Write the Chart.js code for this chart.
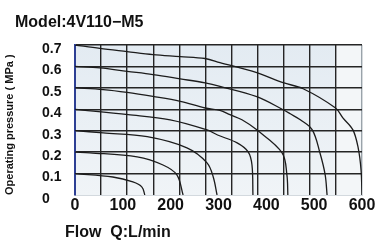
<!DOCTYPE html>
<html><head><meta charset="utf-8">
<script src="https://cdn.jsdelivr.net/npm/chart.js@4.4.1/dist/chart.umd.min.js"></script>
<style>html,body{margin:0;padding:0;background:#fff}canvas{display:block}</style>
</head><body>
<canvas id="c" width="387" height="240"></canvas>
<script>
// ---- text ----
const chartTitle = 'Model:4V110\u2212M5';
const xAxisTitle = 'Flow  Q:L/min';
const yAxisTitle = 'Operating pressure ( MPa )';
const xTickLabels = ['0', '100', '200', '300', '400', '500', '600'];
const yTickLabels = ['0', '0.1', '0.2', '0.3', '0.4', '0.5', '0.6', '0.7'];
const seriesNames = ['0.1 MPa', '0.2 MPa', '0.3 MPa', '0.4 MPa', '0.5 MPa', '0.6 MPa', '0.7 MPa'];

// ---- series (flow L/min, pressure MPa) ----
const flow01 = [0, 79, 121, 140, 146];
const pres01 = [0.10, 0.084, 0.061, 0.037, 0];
const flow02 = [0, 31, 130, 184, 213, 226];
const pres02 = [0.20, 0.197, 0.178, 0.140, 0.094, 0];
const flow03 = [0, 59, 151, 234, 276, 289, 297];
const pres03 = [0.30, 0.290, 0.272, 0.220, 0.150, 0.084, 0];
const flow04 = [0, 111, 199, 276, 298, 339, 362, 370, 372];
const pres04 = [0.40, 0.375, 0.351, 0.304, 0.280, 0.243, 0.201, 0.140, 0];
const flow05 = [0, 59, 109, 163, 220, 272, 303, 324, 349, 380, 433, 443, 445];
const pres05 = [0.50, 0.492, 0.479, 0.460, 0.437, 0.406, 0.395, 0.375, 0.351, 0.304, 0.197, 0.094, 0];
const flow06 = [0, 52, 109, 163, 220, 272, 303, 380, 435, 450, 471, 496, 512, 523, 527];
const pres06 = [0.60, 0.593, 0.577, 0.562, 0.542, 0.523, 0.507, 0.459, 0.398, 0.379, 0.351, 0.304, 0.197, 0.094, 0];
const flow07 = [0, 52, 109, 163, 220, 272, 303, 380, 435, 477, 544, 560, 581, 592, 598, 600];
const pres07 = [0.70, 0.684, 0.669, 0.655, 0.646, 0.637, 0.618, 0.571, 0.524, 0.496, 0.407, 0.360, 0.304, 0.220, 0.117, 0];

const flows = [flow01, flow02, flow03, flow04, flow05, flow06, flow07];
const pressures = [pres01, pres02, pres03, pres04, pres05, pres06, pres07];

// grid divisions of the chart (11 columns over 0..600)
const gridColumns = 11;
const xMin = 0, xMax = 600, yMin = 0, yMax = 0.7;

const FONT = "'Liberation Sans', Arial, sans-serif";
Chart.defaults.font.family = FONT;
Chart.defaults.color = '#111';

const bgPlugin = {
  id: 'plotBg',
  beforeDraw(chart) {
    const {ctx, chartArea: a, scales} = chart;
    ctx.save();
    const g = ctx.createLinearGradient(0, a.top, 0, a.bottom);
    g.addColorStop(0, '#e3ebf2');
    g.addColorStop(1, '#f0f4f7');
    ctx.fillStyle = g;
    ctx.fillRect(a.left, a.top, a.right - a.left, a.bottom - a.top);
    const xs = scales.x;
    const xl = xs.getPixelForValue(xMax * (gridColumns - 1) / gridColumns);
    ctx.fillStyle = '#f3f6f8';
    ctx.fillRect(xl, a.top, a.right - xl, a.bottom - a.top);
    ctx.restore();
  }
};

const textPlugin = {
  id: 'texts',
  afterDraw(chart) {
    const {ctx, chartArea} = chart;
    ctx.save();
    ctx.fillStyle = '#111';
    ctx.font = 'bold 16px ' + FONT;
    ctx.textAlign = 'left';
    ctx.textBaseline = 'alphabetic';
    ctx.fillText(chartTitle, 15, 27);
    ctx.fillText(xAxisTitle, chartArea.left - 10, 237);
    ctx.restore();
  }
};

const datasets = flows.map((f, k) => ({
  label: seriesNames[k],
  data: f.map((x, i) => ({x: x, y: pressures[k][i]})),
  borderColor: '#1c1c1c',
  borderWidth: 1.3,
  pointRadius: 0,
  fill: false,
  tension: 0.35,
  xAxisID: 'x',
  yAxisID: 'y'
}));

new Chart(document.getElementById('c'), {
  type: 'line',
  data: {datasets},
  plugins: [bgPlugin, textPlugin],
  options: {
    responsive: false,
    animation: false,
    events: [],
    layout: {padding: {left: 0, right: 25, top: 45, bottom: 0}},
    plugins: {legend: {display: false}, tooltip: {enabled: false}, title: {display: false}},
    scales: {
      x: {
        type: 'linear', position: 'bottom', min: xMin, max: xMax,
        afterBuildTicks(s) {
          const t = [];
          for (let k = 0; k <= gridColumns; k++) t.push({value: xMax * k / gridColumns});
          s.ticks = t;
        },
        ticks: {display: false},
        grid: {
          drawTicks: false,
          lineWidth: 1.4,
          color: (c) => (c.index === 0 ? 'rgba(0,0,0,0)' : (c.index === gridColumns ? '#9aa3aa' : '#252525'))
        },
        border: {display: false},
        afterFit(s) { s.height = 0; }
      },
      xl: {
        type: 'linear', position: 'bottom', min: xMin, max: xMax,
        ticks: {
          stepSize: 100, padding: 1,
          font: {size: 16, weight: 'bold'},
          callback: (v, i) => xTickLabels[i]
        },
        grid: {display: false, drawTicks: false},
        border: {display: true, color: '#d3d9de', width: 1},
        afterFit(s) { s.height = 45; }
      },
      y: {
        type: 'linear', position: 'left', min: yMin, max: yMax, weight: 0,
        ticks: {
          stepSize: 0.1, crossAlign: 'far', labelOffset: 4,
          font: {size: 14, weight: 'bold'},
          callback: (v, i) => yTickLabels[i]
        },
        grid: {
          drawTicks: false,
          lineWidth: 1.4,
          color: (c) => (c.index === 0 ? 'rgba(0,0,0,0)' : '#252525')
        },
        border: {display: true, color: '#2d3f94', width: 2},
        afterFit(s) { s.width = 33; }
      },
      yt: {
        type: 'linear', position: 'left', weight: 1,
        ticks: {display: false},
        grid: {display: false, drawTicks: false},
        border: {display: false},
        title: {
          display: true, text: yAxisTitle, align: 'start',
          font: {size: 11, weight: 'bold'},
          padding: {top: 3, bottom: 0}
        },
        afterFit(s) { s.width = 42; }
      }
    }
  }
});
</script>
</body></html>
